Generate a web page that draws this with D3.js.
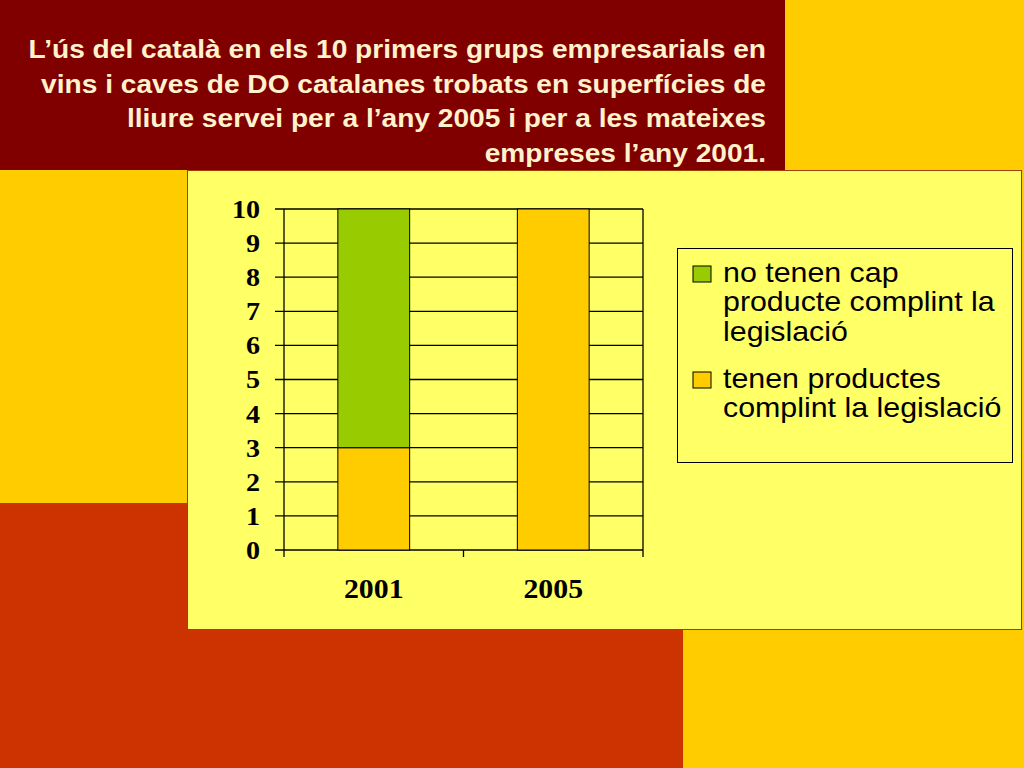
<!DOCTYPE html>
<html>
<head>
<meta charset="utf-8">
<script src="https://d3js.org/d3.v7.min.js"></script>
<style>
  body { margin: 0; padding: 0; background: #FFCC00; }
  svg { display: block; }
</style>
</head>
<body>
<div id="chart"></div>
<script>
// chart data
var titleLines = [
  "L’ús del català en els 10 primers grups empresarials en",
  "vins i caves de DO catalanes trobats en superfícies de",
  "lliure servei per a l’any 2005 i per a les mateixes",
  "empreses l’any 2001."
];
var years = ["2001", "2005"];
var seriesNames = ["tenen productes complint la legislació", "no tenen cap producte complint la legislació"];
var withProducts = [3, 10];
var withoutProducts = [7, 0];
var yTicks = [0, 1, 2, 3, 4, 5, 6, 7, 8, 9, 10];
var legendLines = [
  ["no tenen cap", "producte complint la", "legislació"],
  ["tenen productes", "complint la legislació"]
];
var colors = ["#FFCC00", "#99CC00"];

var W = 1024, H = 768;
var stretch = 1.125; // the slide text is a bit wider than the fonts here
var svg = d3.select("#chart").append("svg").attr("width", W).attr("height", H);

// slide background blocks
svg.append("rect").attr("x", 0).attr("y", 0).attr("width", W).attr("height", H).attr("fill", "#FFCC00");
svg.append("rect").attr("x", 0).attr("y", 0).attr("width", 785).attr("height", 170).attr("fill", "#800000");
svg.append("rect").attr("x", 0).attr("y", 503).attr("width", 187).attr("height", 265).attr("fill", "#CC3300");
svg.append("rect").attr("x", 187).attr("y", 630).attr("width", 496).attr("height", 138).attr("fill", "#CC3300");

// title
svg.append("g").attr("transform", "translate(766,0) scale(" + stretch + ",1)")
  .selectAll("text").data(titleLines).join("text")
  .attr("x", 0)
  .attr("y", function(d, i) { return 58 + i * 34.7; })
  .attr("text-anchor", "end")
  .attr("font-family", "Liberation Sans, Arial, sans-serif")
  .attr("font-weight", "bold")
  .attr("font-size", 25)
  .attr("fill", "#FFF2CC")
  .text(function(d) { return d; });

// chart panel
svg.append("rect").attr("x", 187.5).attr("y", 170.5).attr("width", 834).attr("height", 459)
  .attr("fill", "#FFFF66").attr("stroke", "#A04000").attr("stroke-width", 1);

var plot = { left: 284, right: 643, top: 209, bottom: 550 };
var x = d3.scaleBand().domain(years).range([plot.left, plot.right]).padding(0);
var y = d3.scaleLinear().domain([0, 10]).range([plot.bottom, plot.top]);
var barW = x.bandwidth() * 0.4;

// gridlines
svg.append("g").selectAll("line").data(yTicks).join("line")
  .attr("x1", plot.left - 9).attr("x2", plot.right)
  .attr("y1", function(d) { return y(d); }).attr("y2", function(d) { return y(d); })
  .attr("stroke", "#000").attr("stroke-width", 1.3);

// vertical frame lines and category ticks
var xEdges = [plot.left].concat(years.map(function(d) { return x(d) + x.bandwidth(); }));
svg.append("g").selectAll("line").data(xEdges).join("line")
  .attr("x1", function(d) { return d; }).attr("x2", function(d) { return d; })
  .attr("y1", function(d, i) { return (i === 0 || i === xEdges.length - 1) ? plot.top : plot.bottom; })
  .attr("y2", plot.bottom + 7)
  .attr("stroke", "#000").attr("stroke-width", 1.3);

// stacked bars
var rows = years.map(function(d, i) { return { year: d, a: withProducts[i], b: withoutProducts[i] }; });
var stacked = d3.stack().keys(["a", "b"])(rows);
svg.append("g").selectAll("g").data(stacked).join("g")
  .attr("fill", function(d, i) { return colors[i]; })
  .selectAll("rect").data(function(d) { return d.filter(function(v) { return v[1] - v[0] > 0; }); }).join("rect")
  .attr("x", function(d) { return x(d.data.year) + (x.bandwidth() - barW) / 2; })
  .attr("width", barW)
  .attr("y", function(d) { return y(d[1]); })
  .attr("height", function(d) { return y(d[0]) - y(d[1]); })
  .attr("stroke", "#000").attr("stroke-width", 1);

// y tick labels
svg.append("g").attr("transform", "translate(260,0) scale(" + stretch + ",1)")
  .selectAll("text").data(yTicks).join("text")
  .attr("x", 0)
  .attr("y", function(d) { return y(d); })
  .attr("dy", "0.36em")
  .attr("text-anchor", "end")
  .attr("font-family", "Liberation Serif, Times New Roman, serif")
  .attr("font-weight", "bold")
  .attr("font-size", 25)
  .text(function(d) { return d; });

// x labels
svg.append("g").selectAll("g").data(years).join("g")
  .attr("transform", function(d) { return "translate(" + (x(d) + x.bandwidth() / 2) + ",598) scale(" + stretch + ",1)"; })
  .append("text")
  .attr("text-anchor", "middle")
  .attr("font-family", "Liberation Serif, Times New Roman, serif")
  .attr("font-weight", "bold")
  .attr("font-size", 26.5)
  .text(function(d) { return d; });

// legend
var legend = svg.append("g");
legend.append("rect").attr("x", 677.5).attr("y", 248.5).attr("width", 335).attr("height", 214)
  .attr("fill", "none").attr("stroke", "#000").attr("stroke-width", 1);
var entryTop = [266, 372];
var order = [1, 0];
order.forEach(function(si, k) {
  legend.append("rect").attr("x", 693).attr("y", entryTop[k]).attr("width", 18).attr("height", 16)
    .attr("fill", colors[si]).attr("stroke", "#000").attr("stroke-width", 1);
  legend.append("g").attr("transform", "translate(723,0) scale(" + stretch + ",1)")
    .selectAll("text").data(legendLines[k]).join("text")
    .attr("x", 0)
    .attr("y", function(d, i) { return entryTop[k] + 16 + i * 29.5; })
    .attr("font-family", "Liberation Sans, Arial, sans-serif")
    .attr("font-size", 27)
    .text(function(d) { return d; });
});
</script>
</body>
</html>
